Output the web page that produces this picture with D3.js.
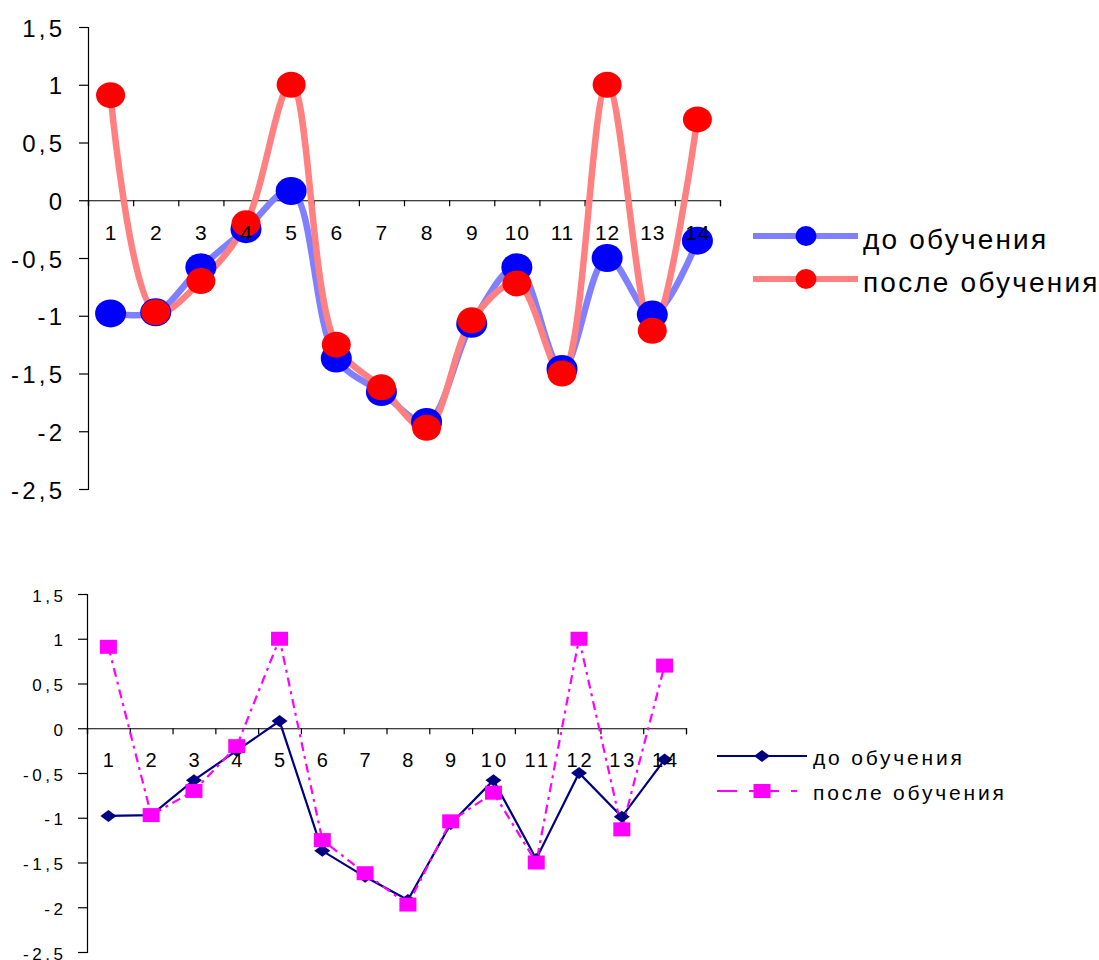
<!DOCTYPE html>
<html>
<head>
<meta charset="utf-8">
<script src="https://cdn.jsdelivr.net/npm/d3@7"></script>
<style>
  html, body { margin: 0; padding: 0; background: #fff; }
  svg { display: block; font-family: "Liberation Sans", Arial, sans-serif; }
</style>
</head>
<body>
<svg id="chart" width="1099" height="960"></svg>
<script>
// Network output, 14 samples, before and after training
const categories = [1, 2, 3, 4, 5, 6, 7, 8, 9, 10, 11, 12, 13, 14];
const beforeTraining = [-0.98, -0.97, -0.58, -0.25, 0.08, -1.37, -1.66, -1.92, -1.07, -0.58, -1.46, -0.50, -0.99, -0.35];
const afterTraining  = [0.91, -0.97, -0.70, -0.20, 1.00, -1.25, -1.62, -1.97, -1.04, -0.72, -1.50, 1.00, -1.13, 0.70];
const yTicks = [1.5, 1, 0.5, 0, -0.5, -1, -1.5, -2, -2.5];
const seriesNames = ["до обучения", "после обучения"];

const svg = d3.select("#chart");
const fmt = v => String(v).replace(".", ",");

// Position a text at (dx, dy) with tracking; the trailing gap is compensated for the anchor
function placeText(sel, dx, dy, ls, anchor) {
  const shift = anchor === "end" ? ls : anchor === "middle" ? ls / 2 : 0;
  sel.attr("x", dx + shift).attr("y", dy).attr("dy", null)
     .attr("text-anchor", anchor).style("letter-spacing", ls + "px");
}

function drawPanel(cfg) {
  const g = svg.append("g");
  const y = d3.scaleLinear().domain([-2.5, 1.5]).range([cfg.yBottom, cfg.yTop]);
  const xl = d3.scaleLinear().domain([0, categories.length]).range([cfg.x0, cfg.x1]);
  const xb = d3.scaleBand().domain(categories).range([cfg.x0, cfg.x1]).paddingInner(0).paddingOuter(0);
  const cx = (d, i) => xb(categories[i]) + xb.bandwidth() / 2;

  // Value axis
  const ya = g.append("g").attr("transform", `translate(${cfg.x0},0)`)
    .call(d3.axisLeft(y).tickValues(yTicks).tickSize(9).tickFormat(fmt));
  ya.attr("font-family", null);
  ya.select(".domain").attr("stroke", "#000").attr("stroke-width", 1.2);
  ya.selectAll(".tick line").attr("stroke", "#000").attr("stroke-width", 1.2);
  ya.selectAll(".tick text")
    .attr("fill", "#000").attr("font-size", cfg.yFont)
    .call(placeText, cfg.yLabelDx, cfg.yLabelDy, cfg.yLs, "end");

  // Category axis line with boundary ticks, crossing at zero
  const xa = g.append("g").attr("transform", `translate(0,${y(0)})`)
    .call(d3.axisBottom(xl).tickValues(d3.range(0, categories.length + 1)).tickSize(6).tickFormat(""));
  xa.select(".domain").attr("stroke", "#000").attr("stroke-width", 1.2);
  xa.selectAll(".tick line").attr("stroke", "#000").attr("stroke-width", 1.2);

  cfg.drawSeries(g, y, cx);

  // Category labels, drawn over the marks
  const la = g.append("g").attr("transform", `translate(0,${y(0)})`)
    .call(d3.axisBottom(xb).tickSize(0).tickFormat(d => d));
  la.attr("font-family", null);
  la.select(".domain").remove();
  la.selectAll(".tick text")
    .attr("fill", "#000").attr("font-size", cfg.xFont)
    .call(placeText, 0, cfg.xLabelDy, cfg.xLs, "middle");
}

// Upper panel: smoothed thick lines with round markers
drawPanel({
  x0: 88, x1: 720, yTop: 27, yBottom: 489,
  yFont: 24, yLabelDx: -26, yLabelDy: 9, yLs: 3.2,
  xFont: 21, xLabelDy: 40, xLs: 0.8,
  drawSeries(g, y, cx) {
    const line = d3.line().x(cx).y(d => y(d)).curve(d3.curveCatmullRom.alpha(0.5));
    g.append("path").datum(beforeTraining).attr("d", line)
      .attr("fill", "none").attr("stroke", "#8080ff").attr("stroke-width", 6.5).attr("stroke-linejoin", "round");
    g.append("path").datum(afterTraining).attr("d", line)
      .attr("fill", "none").attr("stroke", "#ff8080").attr("stroke-width", 6.5).attr("stroke-linejoin", "round");
    g.append("g").selectAll("ellipse").data(beforeTraining).join("ellipse")
      .attr("cx", cx).attr("cy", d => y(d)).attr("rx", 15.5).attr("ry", 14).attr("fill", "#0000ff");
    g.append("g").selectAll("ellipse").data(afterTraining).join("ellipse")
      .attr("cx", cx).attr("cy", d => y(d)).attr("rx", 14.5).attr("ry", 13).attr("fill", "#ff0000");
  }
});

// Upper legend
const leg1 = svg.append("g");
[["#8080ff", "#0000ff", 236], ["#ff8080", "#ff0000", 279]].forEach(([lc, mc, ly], i) => {
  leg1.append("line").attr("x1", 753).attr("x2", 858).attr("y1", ly).attr("y2", ly)
    .attr("stroke", lc).attr("stroke-width", 6);
  leg1.append("ellipse").attr("cx", 806).attr("cy", ly).attr("rx", 10.5).attr("ry", 10).attr("fill", mc);
  leg1.append("text").text(seriesNames[i]).attr("font-size", 28).attr("fill", "#000")
    .call(placeText, 863, ly + 13, 2.2, "start");
});

// Lower panel: straight lines, diamond and square markers
const dashDot = "9,5,3,5";
drawPanel({
  x0: 87, x1: 686, yTop: 594, yBottom: 952,
  yFont: 17, yLabelDx: -24, yLabelDy: 7, yLs: 3.6,
  xFont: 20, xLabelDy: 38.7, xLs: 3,
  drawSeries(g, y, cx) {
    const line = d3.line().x(cx).y(d => y(d));
    g.append("path").datum(beforeTraining).attr("d", line)
      .attr("fill", "none").attr("stroke", "#000080").attr("stroke-width", 2.2);
    g.append("path").datum(afterTraining).attr("d", line)
      .attr("fill", "none").attr("stroke", "#ff00ff").attr("stroke-width", 2.2)
      .attr("stroke-dasharray", dashDot);
    g.append("g").selectAll("path").data(beforeTraining).join("path")
      .attr("d", "M0,-6L8,0L0,6L-8,0Z")
      .attr("transform", (d, i) => `translate(${cx(d, i)},${y(d)})`)
      .attr("fill", "#000080");
    g.append("g").selectAll("rect").data(afterTraining).join("rect")
      .attr("x", (d, i) => cx(d, i) - 8.5).attr("y", d => y(d) - 7)
      .attr("width", 17).attr("height", 14).attr("fill", "#ff00ff");
  }
});

// Lower legend
const leg2 = svg.append("g");
leg2.append("line").attr("x1", 717).attr("x2", 807).attr("y1", 756).attr("y2", 756)
  .attr("stroke", "#000080").attr("stroke-width", 2.2);
leg2.append("path").attr("d", "M0,-6L8,0L0,6L-8,0Z").attr("transform", "translate(762,756)").attr("fill", "#000080");
leg2.append("line").attr("x1", 717).attr("x2", 807).attr("y1", 791).attr("y2", 791)
  .attr("stroke", "#ff00ff").attr("stroke-width", 2.2).attr("stroke-dasharray", "20,12,30,12,6");
leg2.append("rect").attr("x", 753.5).attr("y", 784).attr("width", 17).attr("height", 14).attr("fill", "#ff00ff");
[756, 791].forEach((ly, i) => {
  leg2.append("text").text(seriesNames[i]).attr("font-size", 21).attr("fill", "#000")
    .call(placeText, 813, ly + 9, 2.8, "start");
});
</script>
</body>
</html>
